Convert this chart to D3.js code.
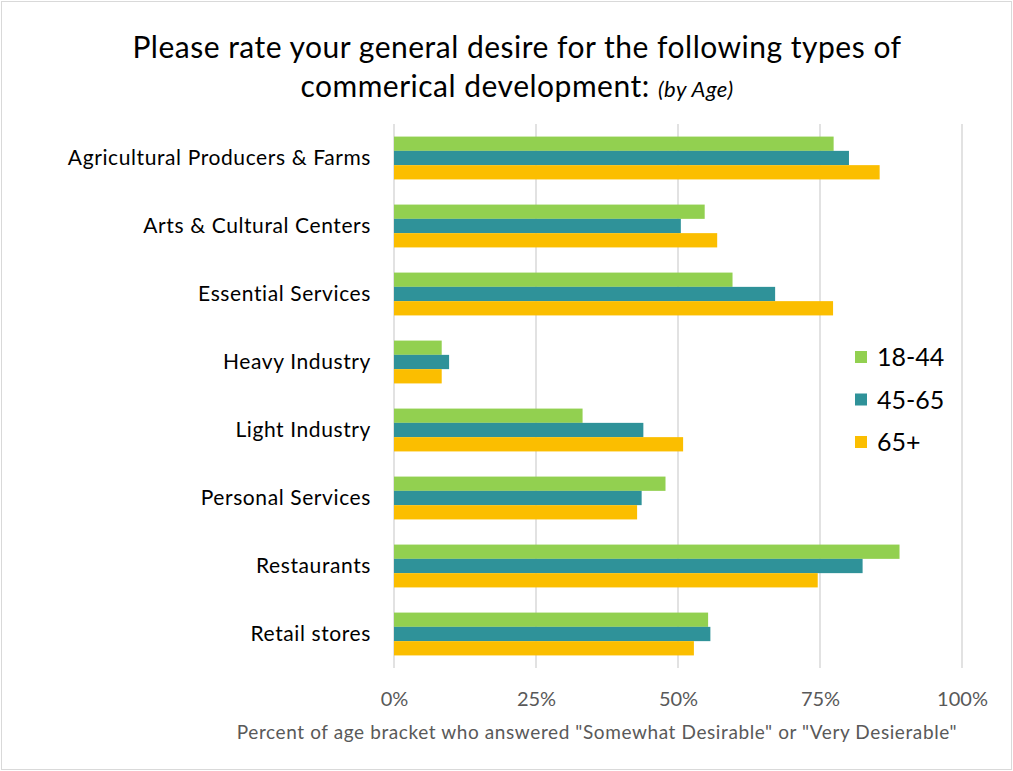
<!DOCTYPE html>
<html>
<head>
<meta charset="utf-8">
<script src="https://cdn.jsdelivr.net/npm/d3@7"></script>
<style>
  html, body { margin: 0; padding: 0; background: #fff; }
  svg { display: block; font-family: Lato, "Open Sans", sans-serif; }
</style>
</head>
<body>
<svg id="chart" width="1013" height="771"></svg>
<script>
// Development types (top to bottom)
const categories = [
  "Agricultural Producers & Farms",
  "Arts & Cultural Centers",
  "Essential Services",
  "Heavy Industry",
  "Light Industry",
  "Personal Services",
  "Restaurants",
  "Retail stores"
];
const seriesNames = ["18-44", "45-65", "65+"];
// Share of each age bracket answering desirable (%)
const age18to44 = [77.4, 54.7, 59.6, 8.4, 33.2, 47.8, 89.0, 55.3];
const age45to65 = [80.1, 50.5, 67.1, 9.7, 43.9, 43.6, 82.5, 55.7];
const age65plus = [85.5, 56.9, 77.3, 8.4, 50.9, 42.8, 74.6, 52.8];
const tickValues = [0, 25, 50, 75, 100];
const colors = ["#92D050", "#2F9299", "#FBBE00"];

const seriesValues = [age18to44, age45to65, age65plus];
const rows = categories.map((c, i) => ({
  category: c,
  values: seriesNames.map((s, j) => ({ series: s, value: seriesValues[j][i] }))
}));

const svg = d3.select("#chart");
const W = 1013, H = 771;

// outer chart border
svg.append("rect")
  .attr("x", 1.5).attr("y", 1.5)
  .attr("width", W - 3).attr("height", H - 3)
  .attr("fill", "#fff").attr("stroke", "#d9d9d9").attr("stroke-width", 1);

const plot = { left: 394, right: 962, top: 124, bottom: 668 };

const x = d3.scaleLinear().domain([0, 100]).range([plot.left, plot.right]);
const y = d3.scaleBand().domain(categories).range([plot.top, plot.bottom])
  .paddingInner(0.37).paddingOuter(0.185);
const ySub = d3.scaleBand().domain(seriesNames).range([0, y.bandwidth()]);

// title
const title = svg.append("text")
  .attr("text-anchor", "middle").attr("fill", "#000")
  .style("font-size", "30px").style("letter-spacing", "0.5px");
title.append("tspan").attr("x", 517).attr("y", 58)
  .text("Please rate your general desire for the following types of");
const t2 = title.append("tspan").attr("x", 517).attr("y", 97);
t2.append("tspan").text("commerical development: ");
t2.append("tspan").style("font-style", "italic").style("font-size", "22px").text("(by Age)");

// vertical gridlines
svg.append("g")
  .selectAll("line")
  .data(tickValues)
  .join("line")
  .attr("x1", d => x(d)).attr("x2", d => x(d))
  .attr("y1", plot.top).attr("y2", plot.bottom)
  .attr("stroke", "#d9d9d9").attr("stroke-width", 1.5);

// bars
const groups = svg.append("g")
  .selectAll("g")
  .data(rows)
  .join("g")
  .attr("transform", d => `translate(0,${y(d.category)})`);

groups.selectAll("rect")
  .data(d => d.values)
  .join("rect")
  .attr("x", x(0))
  .attr("y", d => ySub(d.series))
  .attr("width", d => x(d.value) - x(0))
  .attr("height", ySub.bandwidth())
  .attr("fill", (d, i) => colors[i]);

// category axis labels
const yAxis = d3.axisLeft(y).tickSize(0).tickPadding(23);
const yg = svg.append("g").attr("transform", `translate(${plot.left},0)`).call(yAxis);
yg.select(".domain").remove();
yg.selectAll("text")
  .attr("fill", "#000")
  .style("font-size", "21px")
  .style("letter-spacing", "0.6px")
  .style("font-family", "Lato, 'Open Sans', sans-serif");

// value axis
const xAxis = d3.axisBottom(x).tickValues(tickValues).tickSize(0).tickPadding(24)
  .tickFormat(d => d + "%");
const xg = svg.append("g").attr("transform", `translate(0,${plot.bottom})`).call(xAxis);
xg.select(".domain").remove();
xg.selectAll("text")
  .attr("fill", "#595959")
  .style("font-size", "20px")
  .style("font-family", "Lato, 'Open Sans', sans-serif");

// axis title
svg.append("text")
  .attr("x", 597).attr("y", 739)
  .attr("text-anchor", "middle")
  .attr("fill", "#595959")
  .style("font-size", "19px")
  .style("letter-spacing", "0.6px")
  .text('Percent of age bracket who answered "Somewhat Desirable" or "Very Desierable"');

// legend
const legend = svg.append("g")
  .selectAll("g")
  .data(seriesNames)
  .join("g")
  .attr("transform", (d, i) => `translate(855,${357 + i * 42.5})`);
legend.append("rect")
  .attr("x", 0).attr("y", -6).attr("width", 12).attr("height", 12)
  .attr("fill", (d, i) => colors[i]);
legend.append("text")
  .attr("x", 22).attr("y", 9)
  .attr("fill", "#000")
  .style("font-size", "25px")
  .text(d => d);
</script>
</body>
</html>
